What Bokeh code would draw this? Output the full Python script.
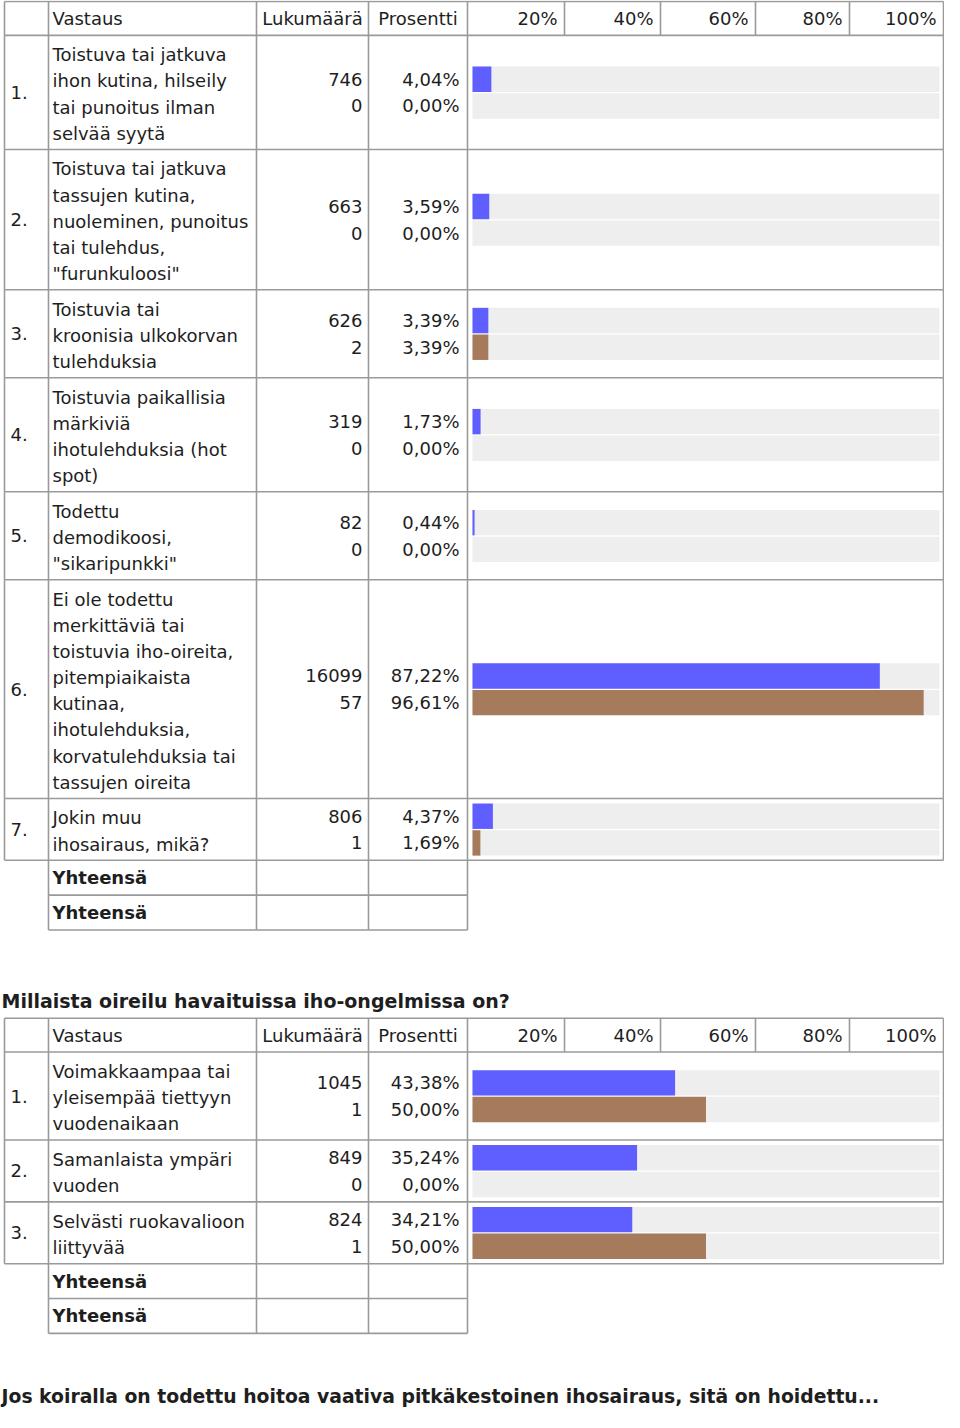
from bokeh.plotting import figure
from bokeh.models import Range1d
from bokeh.core.properties import value
from bokeh.embed import file_html
from bokeh.resources import INLINE

# ---------------- data ----------------
header_labels = ["Vastaus", "Lukumäärä", "Prosentti"]
tick_labels = ["20%", "40%", "60%", "80%", "100%"]
total_label = "Yhteensä"

q1_labels = [
    ["Toistuva tai jatkuva", "ihon kutina, hilseily", "tai punoitus ilman", "selvää syytä"],
    ["Toistuva tai jatkuva", "tassujen kutina,", "nuoleminen, punoitus", "tai tulehdus,", "\"furunkuloosi\""],
    ["Toistuvia tai", "kroonisia ulkokorvan", "tulehduksia"],
    ["Toistuvia paikallisia", "märkiviä", "ihotulehduksia (hot", "spot)"],
    ["Todettu", "demodikoosi,", "\"sikaripunkki\""],
    ["Ei ole todettu", "merkittäviä tai", "toistuvia iho-oireita,", "pitempiaikaista",
     "kutinaa,", "ihotulehduksia,", "korvatulehduksia tai", "tassujen oireita"],
    ["Jokin muu", "ihosairaus, mikä?"],
]
q1_count_a = [746, 663, 626, 319, 82, 16099, 806]
q1_count_b = [0, 0, 2, 0, 0, 57, 1]
q1_pct_a = [4.04, 3.59, 3.39, 1.73, 0.44, 87.22, 4.37]
q1_pct_b = [0.00, 0.00, 3.39, 0.00, 0.00, 96.61, 1.69]

q2_title = "Millaista oireilu havaituissa iho-ongelmissa on?"
q2_labels = [
    ["Voimakkaampaa tai", "yleisempää tiettyyn", "vuodenaikaan"],
    ["Samanlaista ympäri", "vuoden"],
    ["Selvästi ruokavalioon", "liittyvää"],
]
q2_count_a = [1045, 849, 824]
q2_count_b = [1, 0, 1]
q2_pct_a = [43.38, 35.24, 34.21]
q2_pct_b = [50.00, 0.00, 50.00]

q3_title = "Jos koiralla on todettu hoitoa vaativa pitkäkestoinen ihosairaus, sitä on hoidettu..."

# ---------------- layout (pixel units) ----------------
X_L, X_NUM, X_LAB, X_CNT, X_PCT, X_R = 4, 48, 256, 368, 467, 943
TICK_COLS = [564, 660, 755, 849, 943]
BAR0, BAR100 = 472, 939
LINE_H, PAD = 26.25, 9.6
HEAD_H, TOT_H = 34, 35
X0, X1, Y0, Y1 = 0, 944, 2, 1420

BLUE, BROWN, TRACK = "#5f5fff", "#a67b5c", "#eeeeee"
GRID, INK = "#9a9a9a", "#1e1e1e"
FONT = "DejaVu Sans"

W, H = 944, 1412
p = figure(width=W, height=H, x_range=Range1d(X0, X1), y_range=Range1d(Y1, Y0),
           output_backend="svg", toolbar_location=None, min_border=0,
           x_axis_type=None, y_axis_type=None)
p.grid.visible = False
p.outline_line_color = None
p.background_fill_color = "white"
p.border_fill_color = "white"

# percent scale for the bars: 0% at BAR0, 100% at BAR100
k = 100.0 / (BAR100 - BAR0)
p.extra_x_ranges = {"pct": Range1d((X0 - BAR0) * k, (X1 - BAR0) * k)}

segs = {"x0": [], "y0": [], "x1": [], "y1": []}
def seg(a, b, c, d):
    segs["x0"].append(a); segs["y0"].append(b); segs["x1"].append(c); segs["y1"].append(d)

texts = {}
def txt(x, y, s, align="left", bold=False, size="18px"):
    key = (align, bold, size)
    d = texts.setdefault(key, {"x": [], "y": [], "t": []})
    d["x"].append(x); d["y"].append(y); d["t"].append(s)

bars = {"y": [], "v": [], "c": []}

def fmt_pct(v):
    return ("%.2f" % v).replace(".", ",") + "%"

def draw_table(top, labels, ca, cb, pa, pb):
    hb = top + HEAD_H
    for xv in [X_L, X_NUM, X_LAB, X_CNT, X_PCT] + TICK_COLS:
        seg(xv, top, xv, hb)
    seg(X_L, top, X_R, top)
    seg(X_L, hb, X_R, hb)
    hy = top + HEAD_H / 2
    txt(X_NUM + 4, hy, header_labels[0])
    txt((X_LAB + X_CNT) / 2, hy, header_labels[1], "center")
    txt((X_CNT + X_PCT) / 2, hy, header_labels[2], "center")
    for xv, lab in zip(TICK_COLS, tick_labels):
        txt(xv - 7, hy, lab, "right")
    y = hb
    for i, lines in enumerate(labels):
        h = LINE_H * len(lines) + PAD
        bot = y + h
        for xv in [X_L, X_NUM, X_LAB, X_CNT, X_PCT, X_R]:
            seg(xv, y, xv, bot)
        seg(X_L, bot, X_R, bot)
        c = (y + bot) / 2
        txt(X_L + 6, c, "%d." % (i + 1))
        for j, s in enumerate(lines):
            txt(X_NUM + 4, y + 19.5 + LINE_H * j, s)
        ya, yb = c - 13.2, c + 13.6
        txt(X_CNT - 6, ya, str(ca[i]), "right")
        txt(X_CNT - 6, yb, str(cb[i]), "right")
        txt(X_PCT - 8, ya, fmt_pct(pa[i]), "right")
        txt(X_PCT - 8, yb, fmt_pct(pb[i]), "right")
        bars["y"] += [ya, yb]
        bars["v"] += [pa[i], pb[i]]
        bars["c"] += [BLUE, BROWN]
        y = bot
    for _ in range(2):
        bot = y + TOT_H
        for xv in [X_NUM, X_LAB, X_CNT, X_PCT]:
            seg(xv, y, xv, bot)
        seg(X_NUM, bot, X_PCT, bot)
        txt(X_NUM + 4, (y + bot) / 2, total_label, bold=True)
        y = bot
    return y

draw_table(3, q1_labels, q1_count_a, q1_count_b, q1_pct_a, q1_pct_b)
txt(1, 1007, q2_title, bold=True, size="19px")
draw_table(1024, q2_labels, q2_count_a, q2_count_b, q2_pct_a, q2_pct_b)
txt(1, 1404, q3_title, bold=True, size="18.8px")

p.hbar(y=bars["y"], left=0, right=100, height=25.5, fill_color=TRACK,
       line_color=None, x_range_name="pct")
p.hbar(y=bars["y"], left=0, right=bars["v"], height=25.5, fill_color=bars["c"],
       line_color=None, x_range_name="pct")

p.segment(x0=segs["x0"], y0=segs["y0"], x1=segs["x1"], y1=segs["y1"],
          line_color=GRID, line_width=1.6)

for (align, bold, size), d in texts.items():
    p.text(x=d["x"], y=d["y"], text=d["t"], text_font=value(FONT),
           text_font_size=size, text_font_style="bold" if bold else "normal",
           text_align=align, text_baseline="middle", text_color=INK)

open("out.html", "w").write(file_html(p, INLINE))
